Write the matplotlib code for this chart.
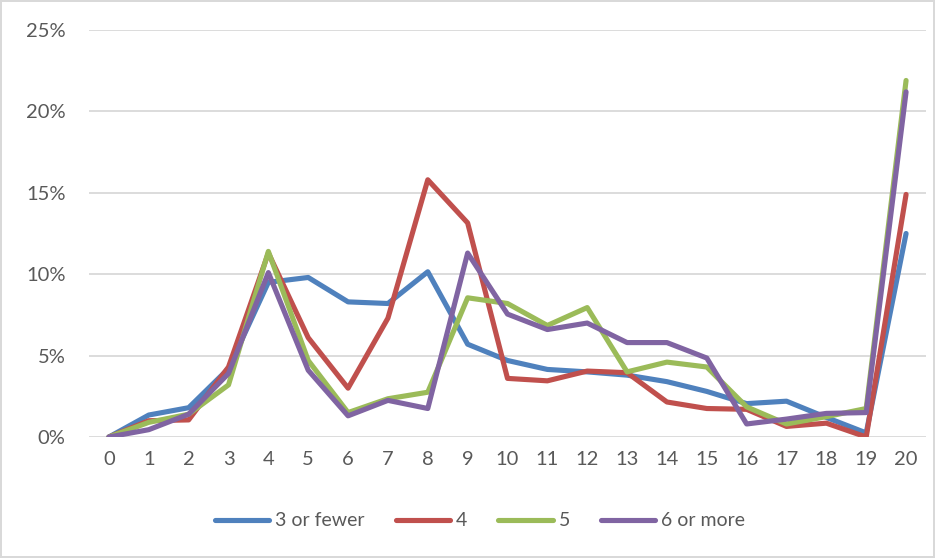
import matplotlib
matplotlib.use("Agg")
import matplotlib.pyplot as plt
from matplotlib.ticker import FuncFormatter

plt.rcParams['font.family'] = ['Lato', 'DejaVu Sans']

categories = list(range(21))
few3 = [0, 1.35, 1.8, 4.2, 9.5, 9.8, 8.3, 8.2, 10.15, 5.7, 4.7, 4.15, 4.0, 3.8, 3.4, 2.8, 2.05, 2.2, 1.2, 0.25, 12.5]
four = [0, 1.0, 1.05, 4.3, 11.3, 6.1, 3.0, 7.3, 15.8, 13.15, 3.6, 3.45, 4.05, 3.95, 2.15, 1.75, 1.7, 0.65, 0.85, 0, 14.9]
five = [0, 0.9, 1.4, 3.2, 11.4, 4.7, 1.5, 2.35, 2.75, 8.55, 8.2, 6.85, 7.95, 4.0, 4.6, 4.3, 1.85, 0.8, 1.25, 1.75, 21.9]
six_plus = [0, 0.45, 1.4, 3.9, 10.1, 4.1, 1.3, 2.25, 1.75, 11.3, 7.55, 6.6, 7.0, 5.8, 5.8, 4.85, 0.8, 1.1, 1.45, 1.5, 21.2]

series = [
    ("3 or fewer", few3, "#4F81BD"),
    ("4", four, "#C0504D"),
    ("5", five, "#9BBB59"),
    ("6 or more", six_plus, "#8064A2"),
]

fig = plt.figure(figsize=(9.35, 5.58), dpi=100)
fig.patch.set_edgecolor("#D9D9D9")
fig.patch.set_linewidth(1.5)
ax = fig.add_axes([89 / 935, 1 - 437 / 558, (926 - 89) / 935, (437 - 30) / 558])

for name, vals, color in series:
    ax.plot(categories, vals, color=color, lw=3.7, label=name,
            solid_capstyle="round", solid_joinstyle="round")

ax.set_xlim(-0.5, 20.5)
ax.set_ylim(0, 25)
ax.set_yticks([0, 5, 10, 15, 20, 25])
ax.set_xticks(categories)
ax.yaxis.set_major_formatter(FuncFormatter(lambda v, p: f"{v:.0f}%"))
ax.grid(axis="y", color="#D9D9D9", lw=1.3)
ax.set_axisbelow(True)
for s in ax.spines.values():
    s.set_visible(False)
ax.tick_params(length=0, labelsize=14.5, colors="#595959")
ax.tick_params(axis="y", pad=17)
ax.tick_params(axis="x", pad=10)

leg = fig.legend(loc="center", bbox_to_anchor=(480 / 935, 1 - 521 / 558), ncol=4,
                 frameon=False, fontsize=14, handlelength=2.8, handletextpad=0.3,
                 columnspacing=1.6)
for t in leg.get_texts():
    t.set_color("#595959")

fig.savefig("out.png", dpi=100)
